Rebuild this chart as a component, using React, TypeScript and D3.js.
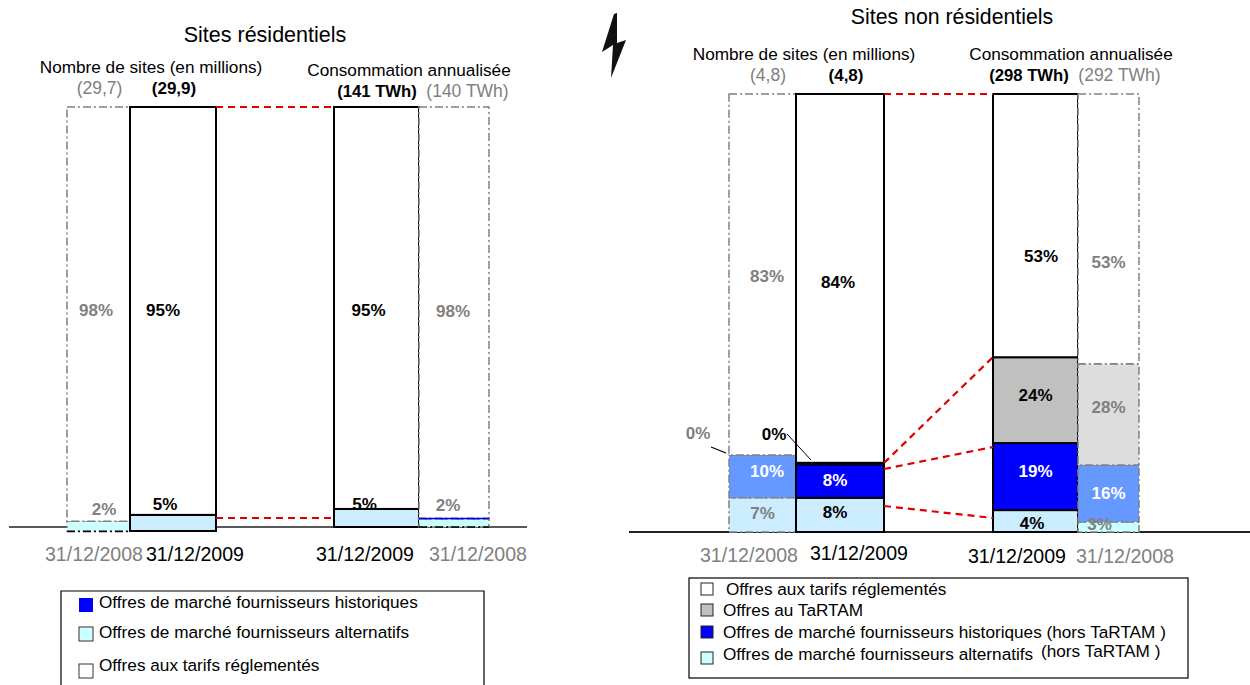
import React from "react";
import * as d3 from "d3";

// ---- Data ----
const seriesKeys = ["alt", "hist", "tartam", "reg"];

// Residential panel: [sites 2008, sites 2009, conso 2009, conso 2008]
const resAlt = [2.3, 3.8, 4.3, 1.9];
const resHist = [0, 0, 0, 0.2];
const resTartam = [0, 0, 0, 0];
const resReg = [97.7, 96.2, 95.7, 97.9];
const resLabels = [
  ["2%", "", "", "98%"],
  ["5%", "", "", "95%"],
  ["5%", "", "", "95%"],
  ["2%", "", "", "98%"],
];

// Non-residential panel: [sites 2008, sites 2009, conso 2009, conso 2008]
const nonAlt = [7.8, 7.8, 5.0, 2.3];
const nonHist = [9.8, 8.0, 15.3, 13.0];
const nonTartam = [0, 0, 19.6, 23.1];
const nonReg = [82.4, 84.2, 60.1, 61.6];
const nonLabels = [
  ["7%", "10%", "", "83%"],
  ["8%", "8%", "", "84%"],
  ["4%", "19%", "24%", "53%"],
  ["3%", "16%", "28%", "53%"],
];

const barYears = ["31/12/2008", "31/12/2009", "31/12/2009", "31/12/2008"];

const legendLeft = [
  "Offres de marché fournisseurs historiques",
  "Offres de marché fournisseurs alternatifs",
  "Offres aux tarifs réglementés",
];
const legendRight = [
  "Offres aux tarifs réglementés",
  "Offres au TaRTAM",
  "Offres de marché fournisseurs historiques (hors TaRTAM )",
  "Offres de marché fournisseurs alternatifs",
];

// ---- Styles ----
const FONT = "'Liberation Sans', Arial, sans-serif";
const GREY = "#808080";
const fill2009: Record<string, string> = { alt: "#CCECFF", hist: "#0000FF", tartam: "#C0C0C0", reg: "#FFFFFF" };
const fill2008: Record<string, string> = { alt: "#CCECFF", hist: "#6699FF", tartam: "#DDDDDD", reg: "#FFFFFF" };
const CYAN = "#CCFFFF";

type Geo = { x0: number; x1: number; top: number; base: number; cyan?: boolean };

const resGeo: Geo[] = [
  { x0: 67, x1: 130, top: 107, base: 531, cyan: true },
  { x0: 130, x1: 216, top: 107, base: 531 },
  { x0: 334, x1: 419, top: 107, base: 527 },
  { x0: 419, x1: 489, top: 107, base: 527, cyan: true },
];
const nonGeo: Geo[] = [
  { x0: 729, x1: 796, top: 94, base: 532 },
  { x0: 796, x1: 884, top: 94, base: 532 },
  { x0: 993, x1: 1078, top: 94, base: 532 },
  { x0: 1078, x1: 1139, top: 94, base: 532, cyan: true },
];

// label offsets from the centre of each segment [bar][alt,hist,tartam,reg] -> [dx,dy]
const resOff = [
  [[5.5, -17], [0, 0], [0, 0], [-2.5, -3.5]],
  [[-8, -18], [0, 0], [0, 0], [-10, 0]],
  [[-12, -13], [0, 0], [0, 0], [-8, 3]],
  [[-6, -18], [0, 0], [0, 0], [-1, -1.5]],
];
const nonOff = [
  [[0, -1], [4.5, -4.5], [0, 0], [4.5, 2.5]],
  [[-5, -2], [-5, 0], [0, 0], [-2, 4.5]],
  [[-3.5, 2], [0, -5], [0, -5], [5.5, 30.5]],
  [[-9, -2], [0, 0.5], [0, -6.5], [0, 34]],
];

function Panel({ table, labels, geo, off }: { table: any[]; labels: string[][]; geo: Geo[]; off: number[][][] }) {
  const stacked = d3.stack().keys(seriesKeys)(table);
  return (
    <g>
      {geo.map((g, b) => {
        const y = d3.scaleLinear().domain([0, 100]).range([g.base, g.top]);
        const is2008 = barYears[b].endsWith("2008");
        const fills = is2008 ? fill2008 : fill2009;
        return (
          <g key={b}>
            {stacked.map((s, k) => {
              const [v0, v1] = s[b];
              if (v1 - v0 <= 0) return null;
              const key = seriesKeys[k];
              const fill = key === "alt" && g.cyan ? CYAN : fills[key];
              return (
                <rect
                  key={key}
                  x={g.x0}
                  width={g.x1 - g.x0}
                  y={y(v1)}
                  height={y(v0) - y(v1)}
                  fill={fill}
                  stroke={is2008 ? GREY : "#000"}
                  strokeWidth={is2008 ? 1.5 : 2}
                  strokeDasharray={is2008 ? "8 3 2 3" : undefined}
                />
              );
            })}
            {stacked.map((s, k) => {
              const [v0, v1] = s[b];
              const text = labels[b][k];
              if (!text) return null;
              const key = seriesKeys[k];
              const [dx, dy] = off[b][k];
              return (
                <text
                  key={key}
                  x={(g.x0 + g.x1) / 2 + dx}
                  y={(y(v0) + y(v1)) / 2 + dy}
                  textAnchor="middle"
                  dominantBaseline="central"
                  fontSize={17}
                  fontWeight="bold"
                  fill={key === "hist" ? "#fff" : is2008 ? GREY : "#000"}
                >
                  {text}
                </text>
              );
            })}
          </g>
        );
      })}
    </g>
  );
}

const rows = (a: number[], h: number[], t: number[], r: number[]) =>
  a.map((v, i) => ({ alt: v, hist: h[i], tartam: t[i], reg: r[i] }));

export default function App() {
  const resTable = rows(resAlt, resHist, resTartam, resReg);
  const nonTable = rows(nonAlt, nonHist, nonTartam, nonReg);
  const red = { stroke: "#E00000", strokeWidth: 2.2, strokeDasharray: "7 5" };
  const T = (p: any) => <text textAnchor="middle" {...p} />;
  const swatchesLeft = ["#0000FF", CYAN, "#FFFFFF"];
  const swatchesRight = ["#FFFFFF", "#C0C0C0", "#0000FF", CYAN];
  return (
    <svg
      width={1250}
      height={685}
      style={{ position: "absolute", left: 0, top: 0, display: "block", background: "#fff" }}
      fontFamily={FONT}
    >
      {/* Residential */}
      <line x1={9} x2={527} y1={527} y2={527} stroke="#222" strokeWidth={1.5} />
      <Panel table={resTable} labels={resLabels} geo={resGeo} off={resOff} />
      <line x1={67} x2={130} y1={531.5} y2={531.5} stroke="#000" strokeWidth={1.5} strokeDasharray="8 3 2 3" />
      <line x1={419} x2={489} y1={527} y2={527} stroke="#000" strokeWidth={1.5} strokeDasharray="8 3 2 3" />
      <line x1={419} x2={489} y1={518.5} y2={518.5} stroke="#0000FF" strokeWidth={1.3} />
      <line x1={216} x2={334} y1={107} y2={107} {...red} />
      <line x1={216} x2={334} y1={518} y2={518} {...red} />

      <T x={265} y={42} fontSize={21.5}>Sites résidentiels</T>
      <T x={151} y={73} fontSize={17.2}>Nombre de sites (en millions)</T>
      <T x={99.5} y={94} fontSize={17.5} fill={GREY}>(29,7)</T>
      <T x={174} y={94} fontSize={17} fontWeight="bold">(29,9)</T>
      <T x={409} y={76} fontSize={17.2}>Consommation annualisée</T>
      <T x={377} y={97} fontSize={16.7} fontWeight="bold">(141 TWh)</T>
      <T x={467.5} y={97} fontSize={17.5} fill={GREY}>(140 TWh)</T>

      <T x={94} y={561} fontSize={19.6} fill={GREY}>31/12/2008</T>
      <T x={195} y={561} fontSize={19.6}>31/12/2009</T>
      <T x={365} y={561} fontSize={19.6}>31/12/2009</T>
      <T x={478} y={561} fontSize={19.6} fill={GREY}>31/12/2008</T>

      <path d="M61,685V591H484V685" fill="none" stroke="#000" strokeWidth={1.2} />
      {legendLeft.map((t, i) => {
        const yy = [602, 632, 665][i];
        return (
          <g key={t}>
            <rect
              x={79}
              y={yy + [-4, -5, -1][i]}
              width={14}
              height={14}
              fill={swatchesLeft[i]}
              stroke={i === 0 ? "none" : "#333"}
              strokeWidth={1}
            />
            <text x={99} y={yy + 6} fontSize={17.2}>{t}</text>
          </g>
        );
      })}

      {/* Bolt */}
      <path d="M617,13 L614,14 L602,52 L613,45 L611,78 L626,40 L617,43 Z" fill="#111" />

      {/* Non residential */}
      <line x1={629} x2={1250} y1={532} y2={532} stroke="#222" strokeWidth={2} />
      <Panel table={nonTable} labels={nonLabels} geo={nonGeo} off={nonOff} />
      <line x1={796} x2={884} y1={465} y2={465} stroke="#000" strokeWidth={1.5} />
      <line x1={884} x2={993} y1={463} y2={357} {...red} />
      <line x1={884} x2={993} y1={94} y2={94} {...red} />
      <line x1={884} x2={993} y1={469} y2={447} {...red} />
      <line x1={884} x2={993} y1={506} y2={518} {...red} />
      <line x1={711} x2={726} y1={447} y2={453} stroke="#000" strokeWidth={1.2} />
      <line x1={787} x2={811} y1={434} y2={460} stroke="#000" strokeWidth={1} />
      <T x={698} y={439} fontSize={17} fontWeight="bold" fill={GREY}>0%</T>
      <T x={774} y={440} fontSize={17} fontWeight="bold">0%</T>

      <T x={952} y={24} fontSize={21.3}>Sites non résidentiels</T>
      <T x={804} y={60} fontSize={17.2}>Nombre de sites (en millions)</T>
      <T x={768} y={81} fontSize={17.5} fill={GREY}>(4,8)</T>
      <T x={846} y={81} fontSize={17} fontWeight="bold">(4,8)</T>
      <T x={1071} y={60} fontSize={17.2}>Consommation annualisée</T>
      <T x={1029} y={81} fontSize={16.7} fontWeight="bold">(298 TWh)</T>
      <T x={1119.5} y={81} fontSize={17.5} fill={GREY}>(292 TWh)</T>

      <T x={749} y={562} fontSize={19.6} fill={GREY}>31/12/2008</T>
      <T x={859} y={560} fontSize={19.6}>31/12/2009</T>
      <T x={1017} y={563} fontSize={19.6}>31/12/2009</T>
      <T x={1125} y={563} fontSize={19.6} fill={GREY}>31/12/2008</T>

      <rect x={689} y={578} width={499} height={100} fill="#fff" stroke="#000" strokeWidth={1.2} />
      {legendRight.map((t, i) => {
        const yy = [589, 610, 632, 654][i];
        return (
          <g key={t}>
            <rect x={701} y={[583, 604, 626, 652][i]} width={12} height={12} fill={swatchesRight[i]} stroke="#222" strokeWidth={1} />
            <text x={i === 0 ? 726 : 723} y={yy + 6} fontSize={17.2}>{t}</text>
          </g>
        );
      })}
      <text x={1041} y={657} fontSize={17.2}>(hors TaRTAM )</text>
    </svg>
  );
}
